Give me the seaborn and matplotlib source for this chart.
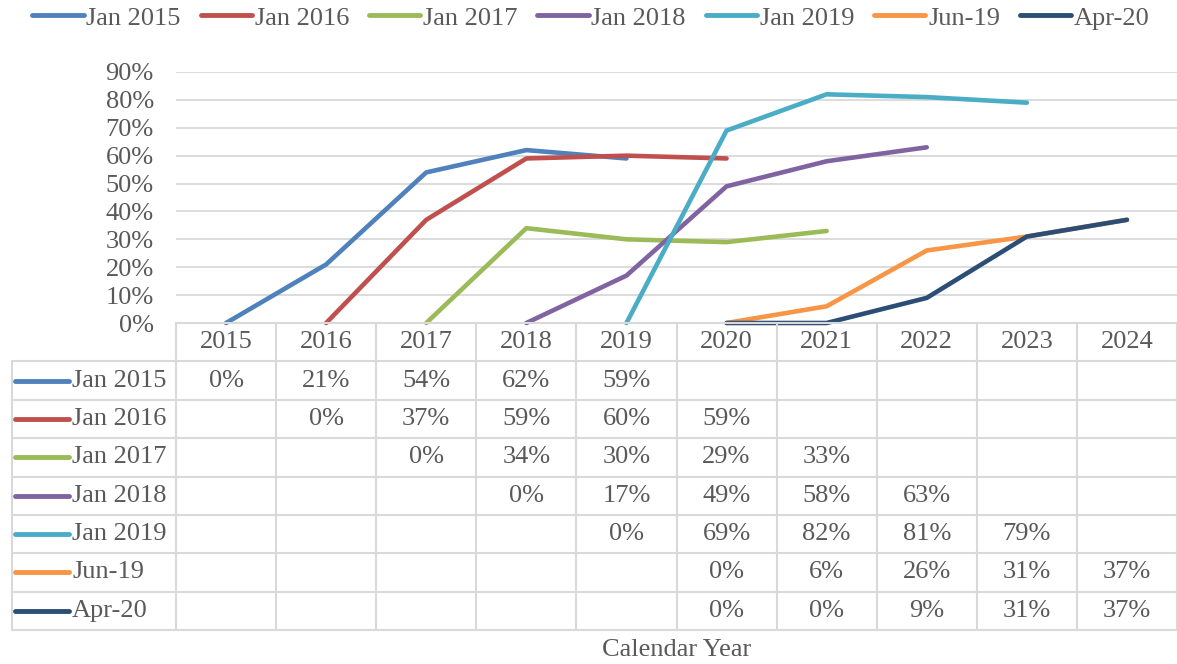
import numpy as np
import pandas as pd
import matplotlib.pyplot as plt
from matplotlib.lines import Line2D
import seaborn as sns

# Data
years = [2015, 2016, 2017, 2018, 2019, 2020, 2021, 2022, 2023, 2024]
series_names = ['Jan 2015', 'Jan 2016', 'Jan 2017', 'Jan 2018', 'Jan 2019', 'Jun-19', 'Apr-20']
start_years = [2015, 2016, 2017, 2018, 2019, 2020, 2020]
jan_2015 = [0, 21, 54, 62, 59]
jan_2016 = [0, 37, 59, 60, 59]
jan_2017 = [0, 34, 30, 29, 33]
jan_2018 = [0, 17, 49, 58, 63]
jan_2019 = [0, 69, 82, 81, 79]
jun_19 = [0, 6, 26, 31, 37]
apr_20 = [0, 0, 9, 31, 37]
all_values = [jan_2015, jan_2016, jan_2017, jan_2018, jan_2019, jun_19, apr_20]
colors = ['#4F81BD', '#C0504D', '#9BBB59', '#8064A2', '#4BACC6', '#F79646', '#2C4D75']

rows = []
for name, start, vals in zip(series_names, start_years, all_values):
    for i, v in enumerate(vals):
        yr = start + i
        rows.append({'series': name, 'year': yr, 'idx': years.index(yr), 'value': v / 100})
df = pd.DataFrame(rows)

sns.set_style('white')
plt.rcParams['font.family'] = ['Liberation Serif', 'DejaVu Serif']
text_color = '#595959'
grid_color = '#D9D9D9'
fs = 19

fig = plt.figure(figsize=(11.77, 6.64), dpi=100)

# Line chart
ax = fig.add_axes([176 / 1177, 1 - 323 / 664, 1001 / 1177, 251 / 664])
sns.lineplot(data=df, x='idx', y='value', hue='series', palette=colors,
             hue_order=series_names, linewidth=3.3, legend=False, ax=ax)
ax.set_xlim(-0.5, 9.5)
ax.set_ylim(0, 0.9)
ax.set_yticks(np.arange(0, 0.91, 0.1))
ax.set_yticklabels([f'{int(round(t * 100))}%' for t in np.arange(0, 0.91, 0.1)])
ax.set_xticks([])
ax.set_xlabel('')
ax.set_ylabel('')
ax.tick_params(axis='y', length=0, pad=16, labelsize=fs, labelcolor=text_color)
ax.grid(axis='y', color=grid_color, linewidth=1.3)
for s in ax.spines.values():
    s.set_visible(False)
for line in ax.lines:
    line.set_clip_on(False)
    line.set_solid_capstyle('round')

# Data table below the chart
tx_left = -0.5 - (176 - 12) / 100.1
tab = fig.add_axes([12 / 1177, 1 - 630 / 664, 1165 / 1177, 307 / 664])
tab.set_xlim(tx_left, 9.5)
tab.set_ylim(8, 0)
tab.axis('off')

tab.plot([-0.5, 9.5], [0, 0], color=grid_color, lw=1.5, clip_on=False)
for r in range(1, 9):
    tab.plot([tx_left, 9.5], [r, r], color=grid_color, lw=1.5, clip_on=False)
for k in range(11):
    tab.plot([-0.5 + k, -0.5 + k], [0, 8], color=grid_color, lw=1.5, clip_on=False)
tab.plot([tx_left, tx_left], [1, 8], color=grid_color, lw=1.5, clip_on=False)

for i, yr in enumerate(years):
    tab.text(i, 0.5, str(yr), ha='center', va='center', fontsize=fs, color=text_color)

for r, (name, start, vals, c) in enumerate(zip(series_names, start_years, all_values, colors), start=1):
    tab.plot([tx_left + 0.03, tx_left + 0.57], [r + 0.5, r + 0.5], color=c, lw=3.5,
             solid_capstyle='round', clip_on=False)
    tab.text(tx_left + 0.60, r + 0.5, name, ha='left', va='center', fontsize=fs, color=text_color)
    for i, v in enumerate(vals):
        tab.text(years.index(start + i), r + 0.5, f'{v}%', ha='center', va='center',
                 fontsize=fs, color=text_color)

fig.text(676.5 / 1177, 1 - 650 / 664, 'Calendar Year', ha='center', va='center',
         fontsize=fs, color=text_color)

handles = [Line2D([0], [0], color=c, lw=3.5, solid_capstyle='round') for c in colors]
fig.legend(handles, series_names, loc='center', bbox_to_anchor=(591 / 1177, 1 - 18 / 664),
           ncol=7, frameon=False, fontsize=fs, handlelength=1.95, handletextpad=0.1,
           columnspacing=0.75, labelcolor=text_color)

fig.savefig('out.png', dpi=100)
